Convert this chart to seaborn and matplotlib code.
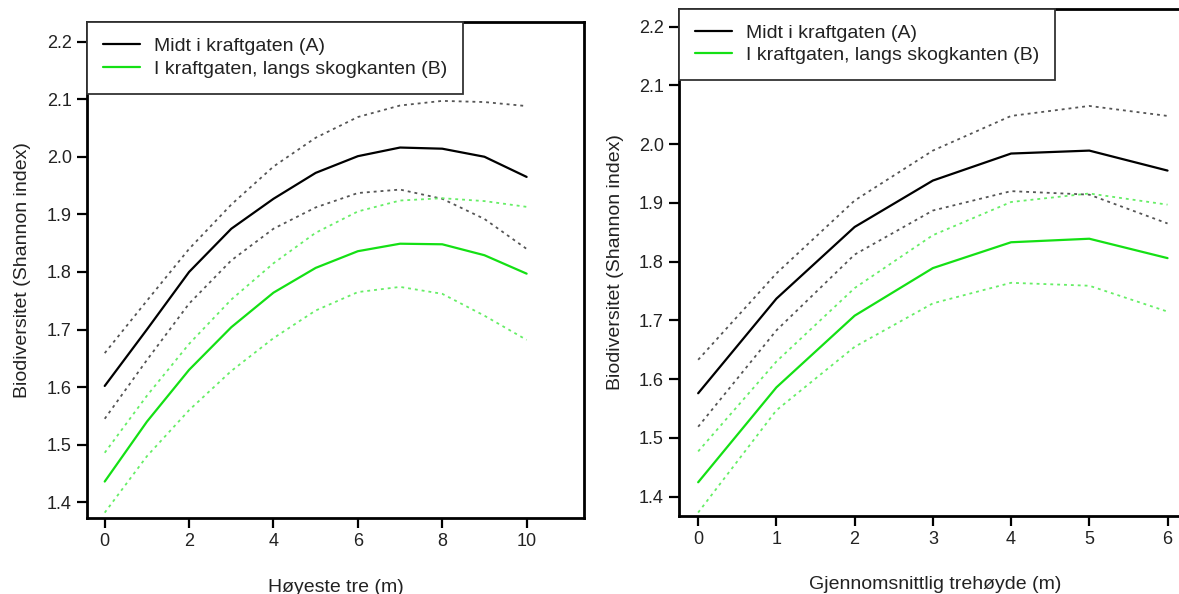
import matplotlib
matplotlib.use("Agg")
import matplotlib.pyplot as plt
from matplotlib.ticker import FormatStrFormatter
import numpy as np
import pandas as pd
import seaborn as sns

# Panel 1: highest tree (m)
hoyeste_tre = [0, 1, 2, 3, 4, 5, 6, 7, 8, 9, 10]
a_fit_1 = [1.602, 1.700, 1.800, 1.875, 1.927, 1.972, 2.001, 2.016, 2.014, 2.000, 1.965]
a_hi_1 = [1.659, 1.750, 1.840, 1.917, 1.983, 2.033, 2.069, 2.089, 2.097, 2.095, 2.088]
a_lo_1 = [1.545, 1.647, 1.745, 1.820, 1.875, 1.912, 1.937, 1.943, 1.927, 1.892, 1.840]
b_fit_1 = [1.436, 1.540, 1.630, 1.704, 1.764, 1.807, 1.836, 1.849, 1.848, 1.829, 1.797]
b_hi_1 = [1.486, 1.585, 1.675, 1.752, 1.815, 1.868, 1.905, 1.924, 1.928, 1.923, 1.913]
b_lo_1 = [1.382, 1.480, 1.560, 1.628, 1.685, 1.733, 1.765, 1.774, 1.762, 1.724, 1.682]

# Panel 2: mean tree height (m)
trehoyde = [0, 1, 2, 3, 4, 5, 6]
a_fit_2 = [1.576, 1.737, 1.859, 1.938, 1.984, 1.989, 1.955]
a_hi_2 = [1.633, 1.780, 1.904, 1.989, 2.048, 2.065, 2.048]
a_lo_2 = [1.519, 1.683, 1.812, 1.887, 1.920, 1.914, 1.865]
b_fit_2 = [1.4245, 1.586, 1.708, 1.789, 1.833, 1.839, 1.806]
b_hi_2 = [1.477, 1.630, 1.755, 1.845, 1.9015, 1.916, 1.897]
b_lo_2 = [1.373, 1.547, 1.655, 1.729, 1.764, 1.759, 1.715]

label_a = "Midt i kraftgaten (A)"
label_b = "I kraftgaten, langs skogkanten (B)"
y_label = "Biodiversitet (Shannon index)"
x_label_1 = "Høyeste tre (m)"
x_label_2 = "Gjennomsnittlig trehøyde (m)"
y_ticks = [1.4, 1.5, 1.6, 1.7, 1.8, 1.9, 2.0, 2.1, 2.2]

sns.set_style("white")
plt.rcParams["font.family"] = ["Liberation Sans", "DejaVu Sans"]

BLACK = "#000000"
GREEN = "#14e014"
GREY_CI = "#555555"
GREEN_CI = "#66ee66"
DOT = (0, (1.6, 2.2))

fig = plt.figure(figsize=(11.79, 5.94), dpi=100)
ax1 = fig.add_axes([87 / 1179, 76 / 594, 497 / 1179, 496 / 594])
ax2 = fig.add_axes([679 / 1179, 78.3 / 594, 512 / 1179, 506.7 / 594])


def draw_panel(ax, x, a_fit, a_lo, a_hi, b_fit, b_lo, b_hi):
    df = pd.DataFrame({"x": x, "a_fit": a_fit, "a_lo": a_lo, "a_hi": a_hi,
                       "b_fit": b_fit, "b_lo": b_lo, "b_hi": b_hi})
    for col in ["a_hi", "a_lo"]:
        sns.lineplot(data=df, x="x", y=col, ax=ax, color=GREY_CI,
                     linewidth=1.3, linestyle=DOT, legend=False)
    for col in ["b_hi", "b_lo"]:
        sns.lineplot(data=df, x="x", y=col, ax=ax, color=GREEN_CI,
                     linewidth=1.3, linestyle=DOT, legend=False)
    sns.lineplot(data=df, x="x", y="a_fit", ax=ax, color=BLACK,
                 linewidth=1.6, label=label_a)
    sns.lineplot(data=df, x="x", y="b_fit", ax=ax, color=GREEN,
                 linewidth=1.6, label=label_b)


draw_panel(ax1, hoyeste_tre, a_fit_1, a_lo_1, a_hi_1, b_fit_1, b_lo_1, b_hi_1)
draw_panel(ax2, trehoyde, a_fit_2, a_lo_2, a_hi_2, b_fit_2, b_lo_2, b_hi_2)

ax1.set_xlim(-0.42, 11.36)
ax1.set_ylim(1.3727, 2.234)
ax1.set_xticks([0, 2, 4, 6, 8, 10])
ax2.set_xlim(-0.245, 6.3)
ax2.set_ylim(1.3676, 2.230)
ax2.set_xticks([0, 1, 2, 3, 4, 5, 6])

for ax, xl, spacing in [(ax1, x_label_1, 0.28), (ax2, x_label_2, 0.22)]:
    ax.set_yticks(y_ticks)
    ax.yaxis.set_major_formatter(FormatStrFormatter("%.1f"))
    ax.tick_params(axis="both", which="major", direction="out", length=7,
                   width=1.6, labelsize=13, pad=4, colors="#000000",
                   left=True, bottom=True)
    ax.tick_params(axis="both", labelcolor="#222222")
    for sp in ax.spines.values():
        sp.set_visible(True)
        sp.set_color("#000000")
        sp.set_linewidth(2.0)
    ax.set_xlabel(xl, fontsize=14, color="#222222")
    ax.set_ylabel(y_label, fontsize=14, color="#222222")
    leg = ax.legend(loc="upper left", bbox_to_anchor=(0, 1), borderaxespad=0,
                    fontsize=14, frameon=True, fancybox=False, framealpha=1,
                    edgecolor="#333333", handlelength=1.9, handletextpad=0.75,
                    borderpad=0.8, labelspacing=spacing)
    leg.get_frame().set_linewidth(1.3)
    for t in leg.get_texts():
        t.set_color("#222222")
    ax.set_facecolor("white")

ax1.xaxis.set_label_coords(0.5, -0.123)
ax1.yaxis.set_label_coords(-0.113, 0.5)
ax2.xaxis.set_label_coords(0.5, -0.119)
ax2.yaxis.set_label_coords(-0.108, 0.5)

fig.savefig("out.png", dpi=100, facecolor="white")
